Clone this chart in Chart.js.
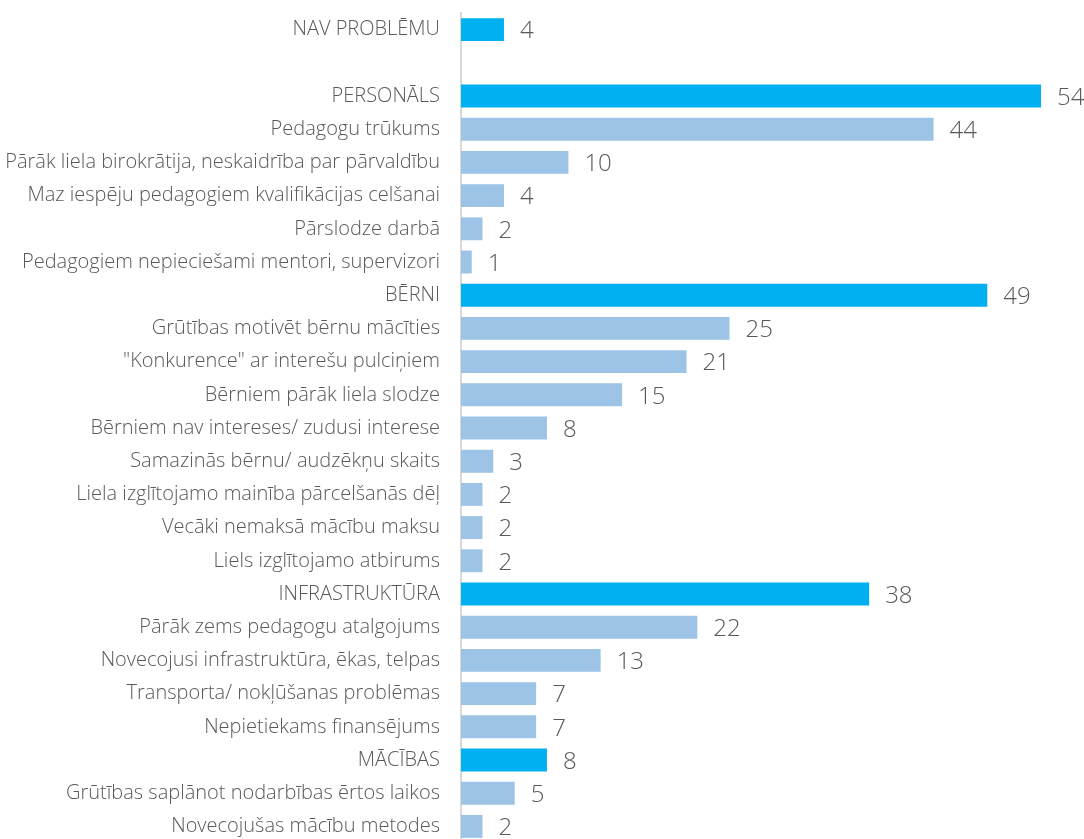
<!DOCTYPE html>
<html>
<head>
<meta charset="utf-8">
<script src="https://cdn.jsdelivr.net/npm/chart.js@4"></script>
<style>
  html, body { margin: 0; padding: 0; background: #fff; overflow: hidden; }
  canvas { display: block; }
</style>
</head>
<body>
<canvas id="myChart" width="1084" height="843"></canvas>
<script>
// rindas no augšas uz leju, '' = tukša rinda
const categories = [
  'NAV PROBLĒMU',
  '',
  'PERSONĀLS',
  'Pedagogu trūkums',
  'Pārāk liela birokrātija, neskaidrība par pārvaldību',
  'Maz iespēju pedagogiem kvalifikācijas celšanai',
  'Pārslodze darbā',
  'Pedagogiem nepieciešami mentori, supervizori',
  'BĒRNI',
  'Grūtības motivēt bērnu mācīties',
  '"Konkurence" ar interešu pulciņiem',
  'Bērniem pārāk liela slodze',
  'Bērniem nav intereses/ zudusi interese',
  'Samazinās bērnu/ audzēkņu skaits',
  'Liela izglītojamo mainība pārcelšanās dēļ',
  'Vecāki nemaksā mācību maksu',
  'Liels izglītojamo atbirums',
  'INFRASTRUKTŪRA',
  'Pārāk zems pedagogu atalgojums',
  'Novecojusi infrastruktūra, ēkas, telpas',
  'Transporta/ nokļūšanas problēmas',
  'Nepietiekams finansējums',
  'MĀCĪBAS',
  'Grūtības saplānot nodarbības ērtos laikos',
  'Novecojušas mācību metodes'
];
const values = [4, null, 54, 44, 10, 4, 2, 1, 49, 25, 21, 15, 8, 3, 2, 2, 2, 38, 22, 13, 7, 7, 8, 5, 2];
// virsgrupas (1) vai apakšpunkts (0)
const isGroup = [1, 0, 1, 0, 0, 0, 0, 0, 1, 0, 0, 0, 0, 0, 0, 0, 0, 1, 0, 0, 0, 0, 1, 0, 0];

const groupColor = '#00B0F0';
const itemColor = '#9DC3E6';
const textColor = '#595959';
const fontFam = "'Open Sans', 'Noto Sans', sans-serif";

const valueLabels = {
  id: 'valueLabels',
  afterDatasetsDraw(chart) {
    const ctx = chart.ctx;
    const meta = chart.getDatasetMeta(0);
    ctx.save();
    ctx.font = '300 24px ' + fontFam;
    ctx.fillStyle = textColor;
    ctx.textAlign = 'left';
    ctx.textBaseline = 'middle';
    meta.data.forEach((bar, i) => {
      if (values[i] == null) return;
      ctx.fillText(values[i], bar.x + 16, bar.y + 2);
    });
    ctx.restore();
  }
};

const ctx = document.getElementById('myChart').getContext('2d');
new Chart(ctx, {
  type: 'bar',
  data: {
    labels: categories,
    datasets: [{
      data: values,
      backgroundColor: isGroup.map(g => g ? groupColor : itemColor),
      barPercentage: 0.69,
      categoryPercentage: 1
    }]
  },
  options: {
    indexAxis: 'y',
    responsive: false,
    animation: false,
    layout: { padding: { left: 0, right: 43, top: 13, bottom: 0 } },
    plugins: {
      legend: { display: false },
      tooltip: { enabled: false }
    },
    scales: {
      x: {
        min: 0,
        max: 54,
        display: false
      },
      y: {
        afterFit(scale) {
          scale.width = 461;
          scale.paddingTop = 0;
          scale.paddingBottom = 0;
        },
        grid: { display: false, drawTicks: false },
        border: { display: true, color: '#D9D9D9', width: 2 },
        ticks: {
          autoSkip: false,
          padding: 21,
          color: textColor,
          font: { family: fontFam, size: 20, weight: 300 }
        }
      }
    }
  },
  plugins: [valueLabels]
});
</script>
</body>
</html>
